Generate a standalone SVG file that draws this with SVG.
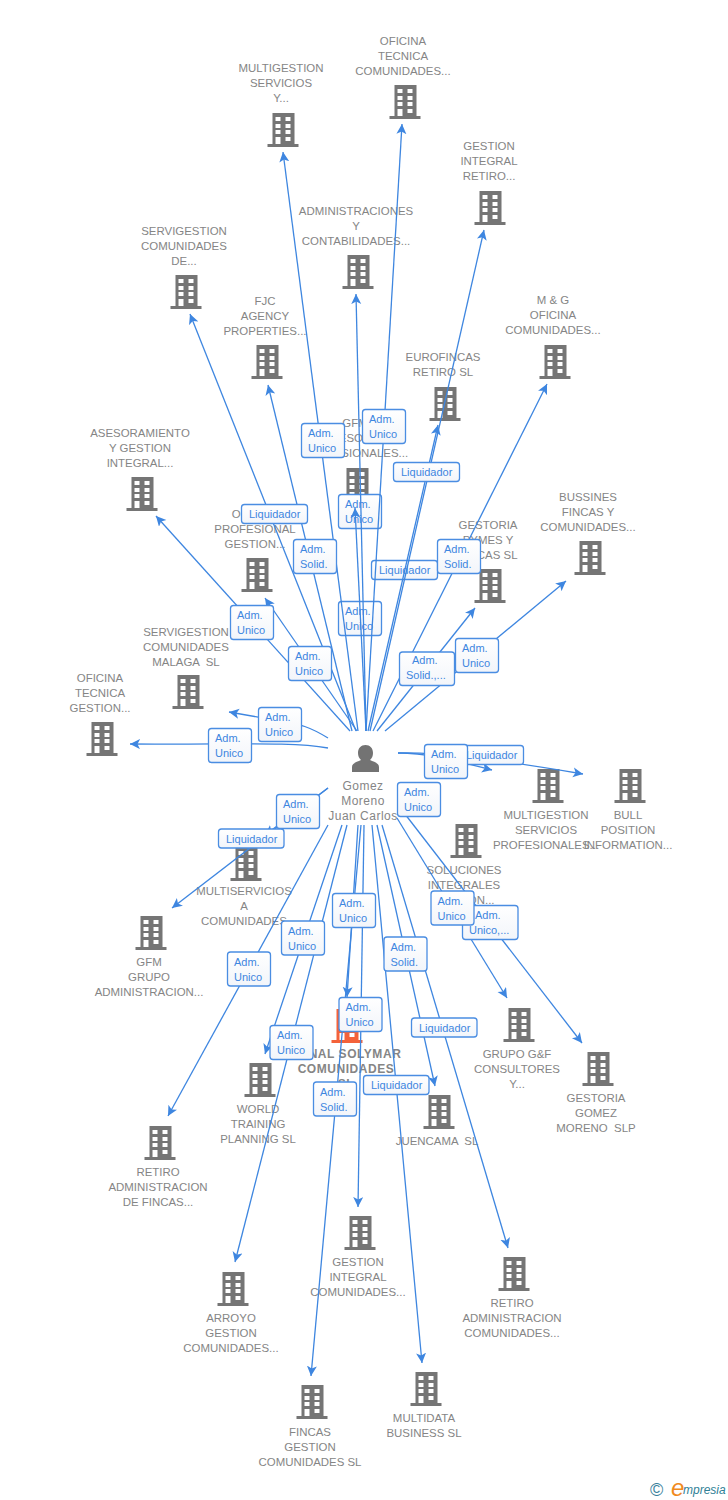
<svg xmlns="http://www.w3.org/2000/svg" width="728" height="1500" viewBox="0 0 728 1500">
<style>
text{font-family:"Liberation Sans",Arial,sans-serif;font-size:11px;white-space:pre}
.n text{fill:#858585;text-anchor:middle;font-size:11.45px}
.n use{fill:#757575}
.n .p{font-size:12px;letter-spacing:.5px}
.n .m{font-size:12px;font-weight:bold;letter-spacing:.55px}
.c path{fill:none;stroke:#3e86e0;stroke-width:1.3;marker-end:url(#a)}
.l rect{fill:url(#g);stroke:#4a8de2;stroke-width:1.3;rx:3px}
.l text{fill:#3e86e0}
</style>
<defs>
<linearGradient id="g" x1="0" y1="0" x2="0" y2="1"><stop offset="0" stop-color="#fff"/><stop offset="1" stop-color="#f2f5fa"/></linearGradient>
<marker id="a" markerUnits="userSpaceOnUse" markerWidth="12" markerHeight="12" refX="10" refY="5" orient="auto"><path d="M10,5L0,0L2.5,5L0,10z" fill="#3e86e0"/></marker>
<path id="b" fill-rule="evenodd" transform="translate(-.5 0)" d="M5,0h22v31h4v3H0v-3h5zM8,4v4h5v-4zM18,4v4h5v-4zM8,11v4h5v-4zM18,11v4h5v-4zM8,17v4h5v-4zM18,17v4h5v-4zM8,24v7h5v-7zM18,24v4h5v-4z"/>
</defs>
<rect width="728" height="1500" fill="#fff"/>
<g class="n">
<g id="n1"><use href="#b" x="268" y="113"/><text x="281" y="72">MULTIGESTION</text><text x="281" y="87">SERVICIOS</text><text x="281" y="102">Y...</text></g>
<g id="n2"><use href="#b" x="390" y="85"/><text x="403" y="45">OFICINA</text><text x="403" y="60">TECNICA</text><text x="403" y="75">COMUNIDADES...</text></g>
<g id="n3"><use href="#b" x="475" y="191"/><text x="489" y="150">GESTION</text><text x="489" y="165">INTEGRAL</text><text x="489" y="180">RETIRO...</text></g>
<g id="n4"><use href="#b" x="343" y="255"/><text x="356" y="215">ADMINISTRACIONES</text><text x="356" y="230">Y</text><text x="356" y="245">CONTABILIDADES...</text></g>
<g id="n5"><use href="#b" x="171" y="275"/><text x="184" y="235">SERVIGESTION</text><text x="184" y="250">COMUNIDADES</text><text x="184" y="265">DE...</text></g>
<g id="n6"><use href="#b" x="252" y="345"/><text x="265" y="305">FJC</text><text x="265" y="320">AGENCY</text><text x="265" y="335">PROPERTIES...</text></g>
<g id="n7"><use href="#b" x="540" y="345"/><text x="553" y="304">M &amp; G</text><text x="553" y="319">OFICINA</text><text x="553" y="334">COMUNIDADES...</text></g>
<g id="n8"><use href="#b" x="430" y="387"/><text x="443" y="361">EUROFINCAS</text><text x="443" y="376">RETIRO SL</text></g>
<g id="n9"><use href="#b" x="342" y="468"/><text x="355" y="427">GFM</text><text x="355" y="442">ASESORES</text><text x="355" y="457">PROFESIONALES...</text></g>
<g id="n10"><use href="#b" x="127" y="477"/><text x="140" y="437">ASESORAMIENTO</text><text x="140" y="452">Y GESTION</text><text x="140" y="467">INTEGRAL...</text></g>
<g id="n11"><use href="#b" x="242" y="558"/><text x="255" y="518">OFICINA</text><text x="255" y="533">PROFESIONAL</text><text x="255" y="548">GESTION...</text></g>
<g id="n12"><use href="#b" x="575" y="541"/><text x="588" y="501">BUSSINES</text><text x="588" y="516">FINCAS Y</text><text x="588" y="531">COMUNIDADES...</text></g>
<g id="n13"><use href="#b" x="475" y="569"/><text x="488" y="529">GESTORIA</text><text x="488" y="544">PYMES Y</text><text x="488" y="559">FINCAS SL</text></g>
<g id="n14"><use href="#b" x="173" y="675"/><text x="186" y="636">SERVIGESTION</text><text x="186" y="651">COMUNIDADES</text><text x="186" y="666">MALAGA  SL</text></g>
<g id="n15"><use href="#b" x="87" y="722"/><text x="100" y="682">OFICINA</text><text x="100" y="697">TECNICA</text><text x="100" y="712">GESTION...</text></g>
<g id="person"><path fill="#737373" d="M352,772v-5c0-4 5-5 9-7c-2-2-3-4-3-7c0-5 3-8 7.500-8s7.500,3 7.500,8c0,3-1,5-3,7c4,2 9,3 9,7v5z"/><text class="p" x="363" y="790">Gomez</text><text class="p" x="363" y="805">Moreno</text><text class="p" x="363" y="820">Juan Carlos</text></g>
<g id="n16"><use href="#b" x="533" y="769"/><text x="546" y="819">MULTIGESTION</text><text x="546" y="834">SERVICIOS</text><text x="546" y="849">PROFESIONALES...</text></g>
<g id="n17"><use href="#b" x="615" y="769"/><text x="628" y="819">BULL</text><text x="628" y="834">POSITION</text><text x="628" y="849">INFORMATION...</text></g>
<g id="n18"><use href="#b" x="451" y="824"/><text x="464" y="874">SOLUCIONES</text><text x="464" y="889">INTEGRALES</text><text x="464" y="904">GESTION...</text></g>
<g id="n19"><use href="#b" x="231" y="847"/><text x="244" y="895">MULTISERVICIOS</text><text x="244" y="910">A</text><text x="244" y="925">COMUNIDADES</text></g>
<g id="n20"><use href="#b" x="136" y="916"/><text x="149" y="966">GFM</text><text x="149" y="981">GRUPO</text><text x="149" y="996">ADMINISTRACION...</text></g>
<g id="n21"><use href="#b" x="504" y="1008"/><text x="517" y="1058">GRUPO G&amp;F</text><text x="517" y="1073">CONSULTORES</text><text x="517" y="1088">Y...</text></g>
<g id="n22"><use href="#b" x="583" y="1052"/><text x="596" y="1102">GESTORIA</text><text x="596" y="1117">GOMEZ</text><text x="596" y="1132">MORENO  SLP</text></g>
<g id="center"><use href="#b" x="332" y="1009" style="fill:#f4623a"/><text class="m" x="355" y="1058">NAL SOLYMAR</text><text class="m" x="346" y="1073">COMUNIDADES</text><text class="m" x="346" y="1088">SL</text></g>
<g id="n23"><use href="#b" x="245" y="1063"/><text x="258" y="1113">WORLD</text><text x="258" y="1128">TRAINING</text><text x="258" y="1143">PLANNING SL</text></g>
<g id="n24"><use href="#b" x="424" y="1095"/><text x="437" y="1145">JUENCAMA  SL</text></g>
<g id="n25"><use href="#b" x="145" y="1126"/><text x="158" y="1176">RETIRO</text><text x="158" y="1191">ADMINISTRACION</text><text x="158" y="1206">DE FINCAS...</text></g>
<g id="n26"><use href="#b" x="499" y="1257"/><text x="512" y="1307">RETIRO</text><text x="512" y="1322">ADMINISTRACION</text><text x="512" y="1337">COMUNIDADES...</text></g>
<g id="n27"><use href="#b" x="345" y="1216"/><text x="358" y="1266">GESTION</text><text x="358" y="1281">INTEGRAL</text><text x="358" y="1296">COMUNIDADES...</text></g>
<g id="n28"><use href="#b" x="218" y="1272"/><text x="231" y="1322">ARROYO</text><text x="231" y="1337">GESTION</text><text x="231" y="1352">COMUNIDADES...</text></g>
<g id="n29"><use href="#b" x="411" y="1372"/><text x="424" y="1422">MULTIDATA</text><text x="424" y="1437">BUSINESS SL</text></g>
<g id="n30"><use href="#b" x="297" y="1385"/><text x="310" y="1436">FINCAS</text><text x="310" y="1451">GESTION</text><text x="310" y="1466">COMUNIDADES SL</text></g>
</g>
<g class="l" id="labels-under">
<g><rect x="338.500" y="494.500" width="43" height="34"/><text x="345" y="508">Adm.</text><text x="345" y="523">Unico</text></g>
<g><rect x="371.500" y="560.500" width="66" height="19"/><text x="379" y="574">Liquidador</text></g>
<g><rect x="338.500" y="601.500" width="43" height="34"/><text x="345" y="615">Adm.</text><text x="345" y="630">Unico</text></g>
</g>
<g class="c" id="connectors">
<path d="M358,731L283,152"/>
<path d="M366,731L402,124"/>
<path d="M370,731L484,230"/>
<path d="M368,731L438,425"/>
<path d="M366,731L356,294"/>
<path d="M356,731L190,314"/>
<path d="M352,731L268,385"/>
<path d="M373,731L547,384"/>
<path d="M366,731L355,508"/>
<path d="M350,731L156,516"/>
<path d="M357,731L265,598"/>
<path d="M377,731L475,608"/>
<path d="M385,731L566,581"/>
<path d="M328,738C310,727 300,724 280,721L229,712"/>
<path d="M328,748C290,741 230,745 130,744"/>
<path d="M328,788L265,835"/>
<path d="M328,788L172,908"/>
<path d="M398,753C430,753 460,762 492,770"/>
<path d="M398,753C440,752 500,760 583,774"/>
<path d="M397,818L507,998"/>
<path d="M398,805L582,1043"/>
<path d="M328,825L168,1116"/>
<path d="M342,825L265,1054"/>
<path d="M347,825L235,1262"/>
<path d="M358,825L347,997"/>
<path d="M361,825L311,1376"/>
<path d="M364,825L358,1207"/>
<path d="M372,825L422,1363"/>
<path d="M377,825L435,1086"/>
<path d="M382,825L508,1248"/>
</g>
<g class="l" id="labels">
<g><rect x="301.500" y="423.500" width="43" height="34"/><text x="308" y="437">Adm.</text><text x="308" y="452">Unico</text></g>
<g><rect x="362.500" y="409.500" width="43" height="34"/><text x="369" y="423">Adm.</text><text x="369" y="438">Unico</text></g>
<g><rect x="393.500" y="462.500" width="66" height="19"/><text x="401" y="476">Liquidador</text></g>
<g><rect x="241.500" y="504.500" width="66" height="19"/><text x="249" y="518">Liquidador</text></g>
<g><rect x="293.500" y="539.500" width="43" height="34"/><text x="300" y="553">Adm.</text><text x="300" y="568">Solid.</text></g>
<g><rect x="437.500" y="539.500" width="43" height="34"/><text x="444" y="553">Adm.</text><text x="444" y="568">Solid.</text></g>
<g><rect x="230.500" y="605.500" width="43" height="34"/><text x="237" y="619">Adm.</text><text x="237" y="634">Unico</text></g>
<g><rect x="288.500" y="646.500" width="43" height="34"/><text x="295" y="660">Adm.</text><text x="295" y="675">Unico</text></g>
<g><rect x="399.500" y="652" width="55" height="33.500"/><text x="412" y="664">Adm.</text><text x="406" y="679">Solid.,...</text></g>
<g><rect x="455.500" y="638.500" width="43" height="34"/><text x="462" y="652">Adm.</text><text x="462" y="667">Unico</text></g>
<g><rect x="258.500" y="707.500" width="43" height="34"/><text x="265" y="721">Adm.</text><text x="265" y="736">Unico</text></g>
<g><rect x="208.500" y="728.500" width="43" height="34"/><text x="215" y="742">Adm.</text><text x="215" y="757">Unico</text></g>
<g><rect x="458.500" y="745.500" width="65" height="19"/><text x="466" y="759">Liquidador</text></g>
<g><rect x="424.500" y="744.500" width="43" height="34"/><text x="431" y="758">Adm.</text><text x="431" y="773">Unico</text></g>
<g><rect x="397.500" y="782.500" width="43" height="34"/><text x="404" y="796">Adm.</text><text x="404" y="811">Unico</text></g>
<g><rect x="276.500" y="794.500" width="43" height="34"/><text x="283" y="808">Adm.</text><text x="283" y="823">Unico</text></g>
<g><rect x="218.500" y="829" width="65.500" height="19"/><text x="226" y="843">Liquidador</text></g>
<g><rect x="332.500" y="893.500" width="43" height="34"/><text x="339" y="907">Adm.</text><text x="339" y="922">Unico</text></g>
<g><rect x="462.500" y="905.500" width="55.500" height="34"/><text x="475" y="919">Adm.</text><text x="469" y="934">Unico,...</text></g>
<g><rect x="431" y="891" width="43" height="34"/><text x="437.500" y="905">Adm.</text><text x="437.500" y="920">Unico</text></g>
<g><rect x="281.500" y="921" width="43" height="34"/><text x="288" y="935">Adm.</text><text x="288" y="950">Unico</text></g>
<g><rect x="384" y="937" width="43" height="34"/><text x="390.500" y="951">Adm.</text><text x="390.500" y="966">Solid.</text></g>
<g><rect x="227.500" y="952" width="43" height="34"/><text x="234" y="966">Adm.</text><text x="234" y="981">Unico</text></g>
<g><rect x="339" y="997.500" width="43" height="34"/><text x="345.500" y="1011">Adm.</text><text x="345.500" y="1026">Unico</text></g>
<g><rect x="270" y="1025.500" width="43" height="34"/><text x="277" y="1039">Adm.</text><text x="277" y="1054">Unico</text></g>
<g><rect x="411.500" y="1018" width="65.500" height="19"/><text x="419" y="1032">Liquidador</text></g>
<g><rect x="313.500" y="1082" width="43" height="34"/><text x="320" y="1096">Adm.</text><text x="320" y="1111">Solid.</text></g>
<g><rect x="363.500" y="1075.500" width="65.500" height="19"/><text x="371" y="1089">Liquidador</text></g>
</g>
<g id="logo"><text x="650" y="1496" style="font-size:18px" fill="#3a7f9c">©</text><text x="671" y="1496" style="font-size:24px;font-style:italic" fill="#f08a1d">e</text><text x="683" y="1494" style="font-size:12px;font-style:italic" fill="#2f7f96">mpresia</text></g>
</svg>
